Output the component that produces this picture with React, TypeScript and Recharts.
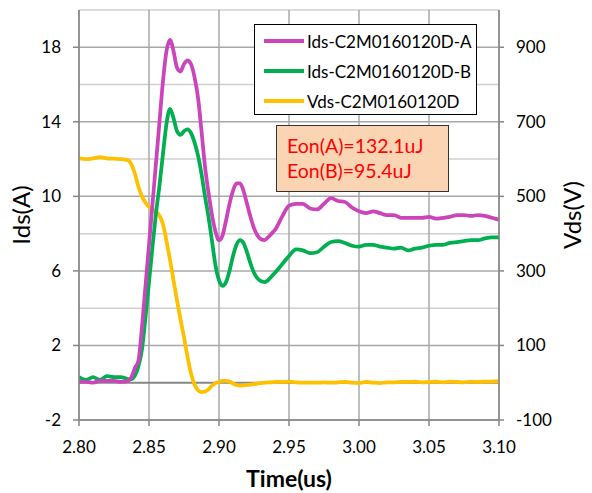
import React from 'react';
import { LineChart, Line, XAxis, YAxis, CartesianGrid, ReferenceLine, Legend } from 'recharts';

// time in us
const timeUs = [
  2.8, 2.805, 2.81, 2.815, 2.82, 2.825, 2.83, 2.835, 2.8375, 2.84, 2.8425, 2.845, 2.8475,
  2.85, 2.8525, 2.855, 2.8575, 2.86, 2.8625, 2.865, 2.8675, 2.87, 2.8725, 2.875, 2.8775,
  2.88, 2.8825, 2.885, 2.8875, 2.89, 2.8925, 2.895, 2.8975, 2.9, 2.9025, 2.905, 2.9075,
  2.91, 2.9125, 2.915, 2.9175, 2.92, 2.9225, 2.925, 2.9275, 2.93, 2.9325, 2.935, 2.9375,
  2.94, 2.945, 2.95, 2.955, 2.96, 2.965, 2.97, 2.975, 2.98, 2.985, 2.99, 2.995, 3.0,
  3.005, 3.01, 3.015, 3.02, 3.025, 3.03, 3.035, 3.04, 3.045, 3.05, 3.055, 3.06, 3.065,
  3.07, 3.075, 3.08, 3.085, 3.09, 3.095, 3.1,
];

const idsA = [
  0.05, 0.05, 0.0, 0.1, 0.1, 0.1, 0.05, 0.1, 0.3, 0.8, 1.2, 3.0, 5.2,
  7.4, 9.6, 11.8, 14.0, 16.2, 17.8, 18.4, 17.8, 16.9, 16.7, 17.1, 17.3,
  17.1, 16.4, 15.3, 13.5, 11.6, 10.2, 9.0, 8.1, 7.65, 7.9, 8.7, 9.6,
  10.3, 10.7, 10.7, 10.3, 9.6, 8.9, 8.3, 7.9, 7.7, 7.65, 7.8, 8.0,
  8.2, 8.9, 9.5, 9.6, 9.6, 9.35, 9.3, 9.6, 9.9, 9.75, 9.7, 9.4, 9.2,
  9.1, 9.2, 9.1, 9.0, 9.0, 8.85, 8.85, 8.85, 8.85, 8.9, 8.8, 8.85, 8.9,
  9.0, 9.0, 8.95, 9.0, 8.95, 8.85, 8.75,
];

const idsB = [
  0.3, 0.15, 0.3, 0.15, 0.35, 0.3, 0.3, 0.2, 0.2, 0.4, 0.9, 1.8, 3.5,
  5.4, 7.3, 9.1, 10.6, 12.3, 13.9, 14.7, 14.2, 13.5, 13.3, 13.5, 13.6,
  13.4, 12.9, 12.2, 11.2, 10.0, 8.9, 7.6, 6.3, 5.5, 5.2, 5.4, 6.0,
  6.8, 7.4, 7.65, 7.5, 7.0, 6.4, 5.9, 5.6, 5.45, 5.4, 5.5, 5.7,
  5.9, 6.35, 6.8, 7.15, 7.1, 6.95, 7.0, 7.3, 7.55, 7.6, 7.5, 7.35, 7.3,
  7.4, 7.4, 7.3, 7.25, 7.2, 7.25, 7.1, 7.2, 7.25, 7.35, 7.4, 7.4, 7.5,
  7.55, 7.6, 7.65, 7.65, 7.75, 7.8, 7.8,
];

const vds = [
  602, 600, 602, 605, 602, 601, 600, 597, 585, 560, 525, 500, 483,
  472, 464, 458, 448, 425, 380, 330, 275, 221, 170, 122, 70,
  25, -5, -20, -25, -24, -18, -8, -1, 2, 5, 5, 3,
  -2, -6, -8, -7, -6, -5, -4, -2, -1, 0, 1, 1,
  2, 2, 3, 1, 0, 0, 0, 1, 0, 1, 2, 0, -1,
  2, 0, -1, 1, 1, 2, 2, 3, 1, 2, 3, 1, 3,
  2, 1, 3, 2, 3, 3, 4,
];

const xTicks = [2.8, 2.85, 2.9, 2.95, 3.0, 3.05, 3.1];
const leftTicks = [-2, 2, 6, 10, 14, 18];
const rightTicks = [-100, 100, 300, 500, 700, 900];
const minorLines = [4, 8, 12, 16, 20];

const eonA = '132.1uJ';
const eonB = '95.4uJ';

const data = timeUs.map((t, i) => ({ t, a: idsA[i], b: idsB[i], v: vds[i] }));

const FONT = 'Lato, "Open Sans", sans-serif';

const LegendBox = ({ payload }: any) => (
  <div
    style={{
      width: 223,
      height: 91,
      border: '1.5px solid #000',
      background: '#fff',
      boxSizing: 'border-box',
      padding: '1px 0 0 9px',
      fontFamily: FONT,
      fontSize: 17,
      color: '#000',
      whiteSpace: 'nowrap',
    }}
  >
    {(payload || []).map((p: any) => (
      <div key={p.value} style={{ display: 'flex', alignItems: 'center', height: 30 }}>
        <span style={{ display: 'inline-block', width: 40, height: 4, background: p.color, marginRight: 3, flexShrink: 0 }} />
        <span>{p.value}</span>
      </div>
    ))}
  </div>
);

const App = () => {
  return (
    <div style={{ position: 'absolute', left: 0, top: 0, width: 592, height: 493, background: '#fff' }}>
      <LineChart
        width={592}
        height={493}
        data={data}
        margin={{ top: 10, right: 0, bottom: 0, left: 0 }}
        style={{ fontFamily: FONT }}
      >
        <CartesianGrid
          yAxisId="i"
          horizontalValues={minorLines}
          verticalValues={xTicks}
          stroke="#d0d0d0"
          strokeWidth={1.5}
          vertical={false}
        />
        <CartesianGrid yAxisId="i" verticalValues={xTicks} horizontal={false} stroke="#a8a8a8" strokeWidth={1.5} />
        {leftTicks.map((v) => (
          <ReferenceLine key={v} yAxisId="i" y={v} stroke="#a8a8a8" strokeWidth={1.5} />
        ))}
        <ReferenceLine yAxisId="i" y={0} stroke="#868686" strokeWidth={2} />
        <XAxis
          dataKey="t"
          type="number"
          domain={[2.8, 3.1]}
          ticks={xTicks}
          tickFormatter={(v: number) => v.toFixed(2)}
          height={73}
          stroke="#868686"
          strokeWidth={1.5}
          tickSize={6}
          tickMargin={15}
          tick={{ fill: '#000', fontSize: 17 }}
          allowDataOverflow
          label={{
            content: ({ viewBox }: any) => (
              <text
                x={viewBox.x + viewBox.width / 2}
                y={viewBox.y + 67}
                textAnchor="middle"
                fontSize={23}
                fontWeight="bold"
                fill="#000"
              >
                Time(us)
              </text>
            ),
          }}
        />
        <YAxis
          yAxisId="i"
          domain={[-2, 20]}
          ticks={leftTicks}
          width={79}
          stroke="#868686"
          strokeWidth={1.5}
          tickSize={6}
          tickMargin={12}
          tick={{ fill: '#000', fontSize: 17 }}
          allowDataOverflow
          label={{
            content: ({ viewBox }: any) => (
              <text
                x={viewBox.x + 30}
                y={viewBox.y + viewBox.height / 2}
                transform={`rotate(-90 ${viewBox.x + 30} ${viewBox.y + viewBox.height / 2})`}
                textAnchor="middle"
                fontSize={24}
                fill="#000"
              >
                Ids(A)
              </text>
            ),
          }}
        />
        <YAxis
          yAxisId="v"
          orientation="right"
          domain={[-100, 1000]}
          ticks={rightTicks}
          width={93}
          stroke="#868686"
          strokeWidth={1.5}
          tickSize={5}
          tickMargin={12}
          tick={{ fill: '#000', fontSize: 17, textAnchor: 'start' }}
          allowDataOverflow
          label={{
            content: ({ viewBox }: any) => (
              <text
                x={viewBox.x + 82}
                y={viewBox.y + viewBox.height / 2}
                transform={`rotate(-90 ${viewBox.x + 82} ${viewBox.y + viewBox.height / 2})`}
                textAnchor="middle"
                fontSize={24}
                fill="#000"
              >
                Vds(V)
              </text>
            ),
          }}
        />
        <Line
          yAxisId="v"
          dataKey="v"
          name="Vds-C2M0160120D"
          stroke="#FFC000"
          strokeWidth={3.75}
          dot={false}
          type="monotone"
          isAnimationActive={false}
        />
        <Line
          yAxisId="i"
          dataKey="b"
          name="Ids-C2M0160120D-B"
          stroke="#00B050"
          strokeWidth={3.75}
          dot={false}
          type="monotone"
          isAnimationActive={false}
        />
        <Line
          yAxisId="i"
          dataKey="a"
          name="Ids-C2M0160120D-A"
          stroke="#CC44BB"
          strokeWidth={3.75}
          dot={false}
          type="monotone"
          isAnimationActive={false}
        />
        <Legend
          layout="horizontal"
          verticalAlign="middle"
          align="center"
          itemSorter={(item: any) =>
            ['Ids-C2M0160120D-A', 'Ids-C2M0160120D-B', 'Vds-C2M0160120D'].indexOf(item.value)
          }
          content={LegendBox}
          wrapperStyle={{ position: 'absolute', left: 254, top: 24, width: 223, height: 91 }}
        />
      </LineChart>
      <div
        style={{
          position: 'absolute',
          left: 276,
          top: 125,
          width: 173,
          height: 67,
          boxSizing: 'border-box',
          border: '1.5px solid #333',
          background: '#FBD4B4',
          color: '#FF0000',
          fontFamily: FONT,
          fontSize: 19.5,
          lineHeight: '25px',
          padding: '7px 0 0 10px',
          whiteSpace: 'nowrap',
        }}
      >
        <div>Eon(A)={eonA}</div>
        <div>Eon(B)={eonB}</div>
      </div>
    </div>
  );
};

export default App;
